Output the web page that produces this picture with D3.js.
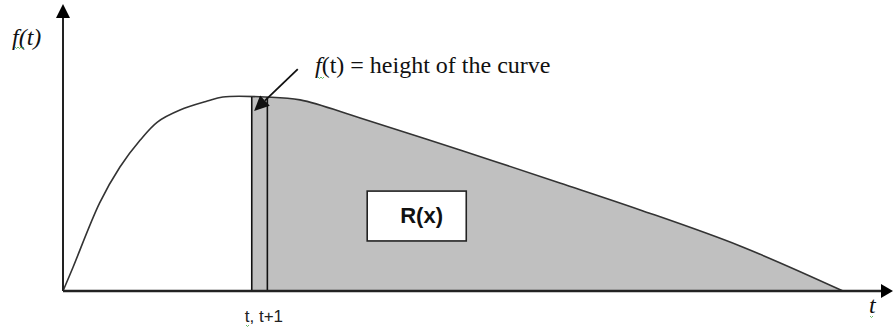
<!DOCTYPE html>
<html>
<head>
<meta charset="utf-8">
<script src="https://cdn.jsdelivr.net/npm/d3@7"></script>
<style>
  body { margin: 0; background: #fff; }
  svg { display: block; }
  .serif { font-family: "Liberation Serif", "Times New Roman", Times, "Noto Serif", "DejaVu Serif", "FreeSerif", "Nimbus Roman", serif; }
  .sans { font-family: "Liberation Sans", Arial, sans-serif; }
</style>
</head>
<body>
<div id="chart"></div>
<script>
// Curve: t on the horizontal axis, f(t) scaled so the peak = 1
const curveT = [0, 1.3, 4.7, 7.3, 9.9, 12.1, 15.0, 18.5, 20.5, 26.0, 30.4, 38.1, 50.9, 63.7, 74.0, 86.8, 100];
const curveF = [0, 0.124, 0.454, 0.639, 0.778, 0.871, 0.933, 0.979, 1.0, 1.0, 0.985, 0.892, 0.727, 0.557, 0.418, 0.232, 0];

// the thin strip [t, t+1] and where shading starts
const stripT = [24.2, 26.2];

// label box for R(x)
const boxT = [39.0, 51.7];
const boxF = [0.258, 0.515];

// arrow pointing at the top of the strip
const pointerT = [30.1, 24.5];
const pointerF = [1.144, 0.928];

const width = 893, height = 328;

const svg = d3.select("#chart")
  .append("svg")
  .attr("width", width)
  .attr("height", height);

const x = d3.scaleLinear().domain([0, 100]).range([63, 843]);
const y = d3.scaleLinear().domain([0, 1]).range([291, 97]);

const pts = curveT.map((t, i) => ({ t: t, f: curveF[i] }));
const smooth = d3.curveCatmullRom.alpha(0.5);

// shaded area, clipped to start at t
svg.append("clipPath")
  .attr("id", "shade-clip")
  .append("rect")
  .attr("x", x(stripT[0]))
  .attr("y", 0)
  .attr("width", width)
  .attr("height", y(0));

const area = d3.area()
  .x(d => x(d.t))
  .y0(y(0))
  .y1(d => y(d.f))
  .curve(smooth);

svg.append("path")
  .datum(pts)
  .attr("d", area)
  .attr("fill", "#c0c0c0")
  .attr("clip-path", "url(#shade-clip)");

// the curve itself
const line = d3.line()
  .x(d => x(d.t))
  .y(d => y(d.f))
  .curve(smooth);

svg.append("path")
  .datum(pts)
  .attr("d", line)
  .attr("fill", "none")
  .attr("stroke", "#333")
  .attr("stroke-width", 1.6);

// strip edges
svg.selectAll(".edge")
  .data(stripT)
  .enter()
  .append("line")
  .attr("class", "edge")
  .attr("x1", d => x(d))
  .attr("x2", d => x(d))
  .attr("y1", y(0))
  .attr("y2", y(1))
  .attr("stroke", "#111")
  .attr("stroke-width", 1.6);

// axes with arrow heads
const axisColor = "#222";
const xEnd = width;            // x arrow tip
const yTop = 4;                // y arrow tip

svg.append("line")
  .attr("x1", x(0)).attr("x2", xEnd - 8)
  .attr("y1", y(0)).attr("y2", y(0))
  .attr("stroke", axisColor)
  .attr("stroke-width", 2.6);

svg.append("line")
  .attr("x1", x(0)).attr("x2", x(0))
  .attr("y1", y(0)).attr("y2", yTop + 12)
  .attr("stroke", axisColor)
  .attr("stroke-width", 2);

svg.append("path")
  .attr("d", `M${xEnd},${y(0)} L${xEnd - 12},${y(0) - 7} L${xEnd - 12},${y(0) + 7} Z`)
  .attr("fill", "#000");

svg.append("path")
  .attr("d", `M${x(0)},${yTop} L${x(0) - 7},${yTop + 14} L${x(0) + 7},${yTop + 14} Z`)
  .attr("fill", "#000");

// R(x) box
svg.append("rect")
  .attr("x", x(boxT[0]))
  .attr("y", y(boxF[1]))
  .attr("width", x(boxT[1]) - x(boxT[0]))
  .attr("height", y(boxF[0]) - y(boxF[1]))
  .attr("fill", "#fff")
  .attr("stroke", "#222")
  .attr("stroke-width", 1.6);

svg.append("text")
  .attr("class", "sans")
  .attr("x", x(boxT[0]) + 33)
  .attr("y", y(boxF[0]) - 18)
  .attr("font-weight", "bold")
  .attr("font-size", "22px")
  .attr("fill", "#111")
  .text("R(x)");

// pointer arrow
const px0 = x(pointerT[0]), py0 = y(pointerF[0]);
const px1 = x(pointerT[1]), py1 = y(pointerF[1]);
const ang = Math.atan2(py1 - py0, px1 - px0);
const headLen = 15, headW = 7;
const bx = px1 - headLen * Math.cos(ang), by = py1 - headLen * Math.sin(ang);

svg.append("line")
  .attr("x1", px0).attr("y1", py0)
  .attr("x2", bx).attr("y2", by)
  .attr("stroke", "#111")
  .attr("stroke-width", 1.8);

svg.append("path")
  .attr("d", `M${px1},${py1} L${bx - headW * Math.sin(ang)},${by + headW * Math.cos(ang)} L${bx + headW * Math.sin(ang)},${by - headW * Math.cos(ang)} Z`)
  .attr("fill", "#111");

// text labels
svg.append("text")
  .attr("class", "serif")
  .attr("x", 12).attr("y", 45)
  .attr("font-style", "italic")
  .attr("font-size", "24px")
  .attr("fill", "#111")
  .text("f(t)");

const note = svg.append("text")
  .attr("class", "serif")
  .attr("x", 315).attr("y", 73)
  .attr("font-size", "24px")
  .attr("fill", "#111");
note.append("tspan").attr("font-style", "italic").text("f");
note.append("tspan").text("(t) = height of the curve");

svg.append("text")
  .attr("class", "serif")
  .attr("x", 869).attr("y", 313)
  .attr("font-style", "italic")
  .attr("font-size", "24px")
  .attr("fill", "#111")
  .text("t");

svg.append("text")
  .attr("class", "sans")
  .attr("x", x(stripT[0]) - 7).attr("y", 322)
  .attr("font-size", "17px")
  .attr("fill", "#222")
  .text("t, t+1");

// green spell-check squiggles seen in the picture
const squiggle = (x0, y0, len) => {
  let d = `M${x0},${y0}`;
  for (let i = 0; i < len; i += 3) d += ` l1.5,${i % 6 === 0 ? 1.5 : -1.5}`;
  return d;
};
[[15, 47, 18], [318, 77, 12], [246, 325, 6], [870, 316, 6]].forEach(s => {
  svg.append("path")
    .attr("d", squiggle(s[0], s[1], s[2]))
    .attr("fill", "none")
    .attr("stroke", "#4a4")
    .attr("stroke-width", 0.8);
});
</script>
</body>
</html>
